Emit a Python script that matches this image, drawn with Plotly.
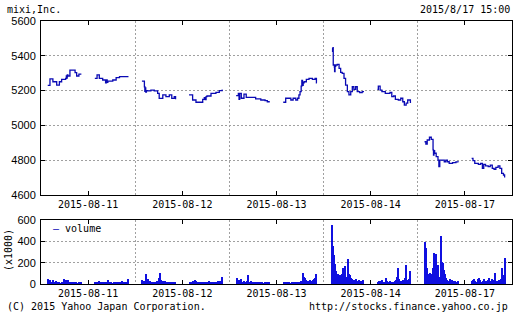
import plotly.graph_objects as go

# ---------------- data ----------------
days = ["2015-08-11", "2015-08-12", "2015-08-13", "2015-08-14", "2015-08-17"]

# price: minutes after 9:00 (AM 0-150, PM 210-360) and price (JPY)
am1_t = [0, 10, 23, 40, 52, 62, 80, 83, 85, 87, 90, 99, 122, 129, 139, 150]
am1_p = [5230, 5267, 5251, 5232, 5251, 5265, 5270, 5284, 5272, 5290, 5284, 5318, 5303, 5284, 5295, 5295]
pm1_t = [210, 220, 230, 245, 258, 262, 265, 268, 290, 305, 320, 360]
pm1_p = [5270, 5290, 5270, 5261, 5245, 5262, 5248, 5255, 5261, 5274, 5280, 5280]

am2_t = [0, 11, 13, 15, 17, 20, 26, 40, 55, 70, 77, 93, 107, 122, 133, 144, 150]
am2_p = [5255, 5222, 5195, 5215, 5192, 5200, 5198, 5203, 5198, 5184, 5155, 5175, 5165, 5175, 5155, 5165, 5150]
pm2_t = [210, 226, 241, 263, 271, 278, 282, 286, 290, 308, 323, 330, 345, 358, 360]
pm2_p = [5175, 5146, 5133, 5133, 5150, 5160, 5148, 5165, 5169, 5184, 5184, 5190, 5200, 5203, 5203]

am3_t = [0, 10, 13, 16, 23, 35, 45, 65, 87, 110, 129, 139, 150]
am3_p = [5171, 5184, 5150, 5184, 5156, 5180, 5161, 5161, 5152, 5146, 5142, 5136, 5136]
pm3_t = [210, 221, 236, 244, 254, 266, 274, 280, 285, 290, 293, 296, 299, 303, 313, 325, 340, 352, 358, 360]
pm3_p = [5133, 5156, 5156, 5146, 5156, 5146, 5156, 5175, 5194, 5226, 5258, 5230, 5245, 5251, 5265, 5270, 5265, 5270, 5245, 5245]

am4_t = [8, 10, 12, 13, 18, 19, 21, 24, 31, 39, 46, 53, 61, 68, 76, 83, 91, 98, 105, 113, 120, 131, 142, 150]
am4_p = [5443, 5425, 5447, 5347, 5335, 5309, 5340, 5347, 5351, 5328, 5305, 5299, 5270, 5232, 5194, 5175, 5194, 5222, 5207, 5222, 5194, 5188, 5194, 5194]
pm4_t = [210, 214, 222, 230, 245, 266, 274, 282, 290, 303, 314, 323, 330, 338, 345, 353, 357, 360]
pm4_p = [5207, 5226, 5203, 5194, 5184, 5190, 5165, 5169, 5150, 5146, 5156, 5136, 5117, 5128, 5146, 5146, 5133, 5133]

am5_t = [0, 6, 12, 22, 30, 38, 40, 42, 45, 52, 60, 64, 68, 80, 88, 95, 102, 110, 125, 140, 150]
am5_p = [4906, 4893, 4916, 4932, 4920, 4859, 4830, 4855, 4840, 4820, 4801, 4763, 4801, 4801, 4791, 4801, 4791, 4782, 4786, 4790, 4788]
pm5_t = [210, 216, 224, 240, 250, 258, 264, 272, 284, 293, 302, 310, 318, 328, 336, 344, 352, 357, 360]
pm5_p = [4811, 4797, 4782, 4776, 4782, 4753, 4776, 4767, 4763, 4772, 4753, 4748, 4759, 4767, 4753, 4724, 4715, 4705, 4705]

# volume (x1000 shares), 5-minute bars, 30 per session
vol_am1 = [50, 28, 42, 18, 38, 22, 15, 30, 12, 10, 15, 8, 12, 10, 45, 30, 40, 25, 35, 18, 22, 12, 10, 8, 15, 10, 8, 12, 6, 10]
vol_pm1 = [15, 20, 12, 25, 18, 10, 8, 12, 6, 10, 15, 35, 12, 8, 10, 6, 8, 10, 12, 8, 15, 10, 20, 12, 25, 18, 10, 22, 15, 45]
vol_am2 = [40, 25, 30, 90, 35, 45, 20, 25, 15, 12, 20, 10, 15, 25, 30, 55, 100, 40, 30, 20, 25, 15, 20, 10, 15, 12, 18, 10, 15, 20]
vol_pm2 = [15, 20, 10, 25, 30, 40, 25, 15, 12, 10, 15, 20, 10, 12, 8, 10, 15, 30, 20, 12, 10, 15, 12, 20, 15, 25, 18, 30, 25, 62]
vol_am3 = [58, 30, 40, 25, 45, 20, 15, 25, 12, 30, 80, 20, 15, 25, 18, 10, 12, 15, 8, 10, 15, 12, 20, 10, 8, 12, 10, 15, 8, 12]
vol_pm3 = [12, 8, 15, 20, 10, 12, 8, 15, 10, 12, 20, 15, 10, 12, 18, 25, 30, 100, 70, 55, 40, 30, 25, 40, 30, 20, 35, 50, 60, 95]
vol_am4 = [0, 555, 355, 275, 185, 120, 90, 80, 85, 75, 90, 150, 60, 165, 70, 230, 95, 80, 60, 50, 40, 35, 45, 30, 25, 35, 20, 30, 25, 40]
vol_pm4 = [20, 30, 15, 25, 35, 20, 15, 60, 30, 20, 15, 25, 10, 15, 20, 30, 40, 70, 150, 45, 30, 25, 35, 40, 60, 180, 40, 30, 50, 118]
vol_am5 = [390, 337, 150, 90, 100, 95, 60, 150, 290, 120, 285, 80, 180, 70, 450, 210, 197, 134, 90, 56, 40, 30, 45, 25, 35, 20, 30, 25, 20, 30]
vol_pm5 = [25, 40, 50, 30, 20, 45, 60, 35, 20, 15, 30, 50, 25, 20, 35, 60, 30, 25, 45, 40, 100, 30, 20, 25, 40, 30, 50, 150, 80, 240]

# ---------------- build ----------------
OPEN_OFFSET = 30   # axis day starts at 8:30
DAY_SPAN = 420     # 8:30 - 15:30

def xpos(day, t):
    return day + (OPEN_OFFSET + t) / DAY_SPAN

price_sessions = [
    (0, am1_t, am1_p), (0, pm1_t, pm1_p),
    (1, am2_t, am2_p), (1, pm2_t, pm2_p),
    (2, am3_t, am3_p), (2, pm3_t, pm3_p),
    (3, am4_t, am4_p), (3, pm4_t, pm4_p),
    (4, am5_t, am5_p), (4, pm5_t, pm5_p),
]
px, py = [], []
for d, ts, ps in price_sessions:
    px += [xpos(d, t) for t in ts] + [None]
    py += list(ps) + [None]

vol_sessions = [
    (0, 0, vol_am1), (0, 210, vol_pm1),
    (1, 0, vol_am2), (1, 210, vol_pm2),
    (2, 0, vol_am3), (2, 210, vol_pm3),
    (3, 0, vol_am4), (3, 210, vol_pm4),
    (4, 0, vol_am5), (4, 210, vol_pm5),
]
vx, vy = [], []
for d, start, vals in vol_sessions:
    for i, v in enumerate(vals):
        vx.append(xpos(d, start + 5 * i + 2.5))
        vy.append(v)

LINE = "#0a0ab4"
BAR = "#1010e0"
GRID = "#a0a0a0"
MONO = "DejaVu Sans Mono"
SANS = "Liberation Sans"

fig = go.Figure()
fig.add_trace(go.Scatter(x=px, y=py, mode="lines", line=dict(color=LINE, width=1.3, shape="hv"),
                         connectgaps=False, showlegend=False, xaxis="x", yaxis="y"))
fig.add_trace(go.Bar(x=vx, y=vy, width=5 / DAY_SPAN, marker=dict(color=BAR, line=dict(width=0)),
                     showlegend=False, xaxis="x2", yaxis="y2"))

xcommon = dict(
    range=[0, 5], showline=True, linecolor="black", linewidth=1, mirror="allticks",
    ticks="inside", ticklen=4, tickcolor="black",
    tickmode="array", tickvals=[i + 0.5 for i in range(5)], ticktext=days,
    showgrid=False, zeroline=False,
    tickfont=dict(family=MONO, size=10, color="black"),
    minor=dict(tickmode="array", tickvals=[1, 2, 3, 4], showgrid=True, gridcolor=GRID,
               griddash="2px,2px", gridwidth=1, ticks=""),
)
ycommon = dict(
    showline=True, linecolor="black", linewidth=1, mirror="allticks",
    ticks="inside", ticklen=4, tickcolor="black",
    showgrid=True, gridcolor=GRID, griddash="2px,2px", gridwidth=1, zeroline=False,
    tickfont=dict(family=SANS, size=11, color="black"), ticklabelstandoff=2,
)

fig.update_layout(
    width=519, height=318,
    margin=dict(l=41, r=7, t=21, b=34, autoexpand=False),
    paper_bgcolor="white", plot_bgcolor="white",
    xaxis=dict(xcommon, anchor="y", domain=[0, 1]),
    yaxis=dict(ycommon, range=[4600, 5600], dtick=200, tick0=4600, domain=[0.3384, 1]),
    xaxis2=dict(xcommon, anchor="y2", domain=[0, 1]),
    yaxis2=dict(ycommon, range=[0, 600], dtick=200, tick0=0, domain=[0, 0.2433]),
    bargap=0,
    showlegend=False,
)

font_mono = dict(family=MONO, size=10, color="black")
fig.add_annotation(text="mixi,Inc.", xref="paper", yref="paper", x=-0.077, y=1.042,
                   xanchor="left", yanchor="middle", showarrow=False, font=font_mono)
fig.add_annotation(text="2015/8/17 15:00", xref="paper", yref="paper", x=1.0, y=1.042,
                   xanchor="right", yanchor="middle", showarrow=False, font=font_mono)
fig.add_annotation(text="(C) 2015 Yahoo Japan Corporation.", xref="paper", yref="paper",
                   x=-0.077, y=-0.087, xanchor="left", yanchor="middle", showarrow=False, font=font_mono)
fig.add_annotation(text="http://stocks.finance.yahoo.co.jp", xref="paper", yref="paper",
                   x=0.996, y=-0.087, xanchor="right", yanchor="middle", showarrow=False, font=font_mono)
fig.add_annotation(text="(x1000)", xref="paper", yref="paper", x=-0.070, y=0.129,
                   xanchor="center", yanchor="middle", textangle=-90, showarrow=False, font=font_mono)
fig.add_annotation(text="<span style='color:%s'>—</span> volume" % LINE, xref="paper", yref="paper",
                   x=0.021, y=0.210, xanchor="left", yanchor="middle", showarrow=False, font=font_mono)

fig.write_html("out.html")
